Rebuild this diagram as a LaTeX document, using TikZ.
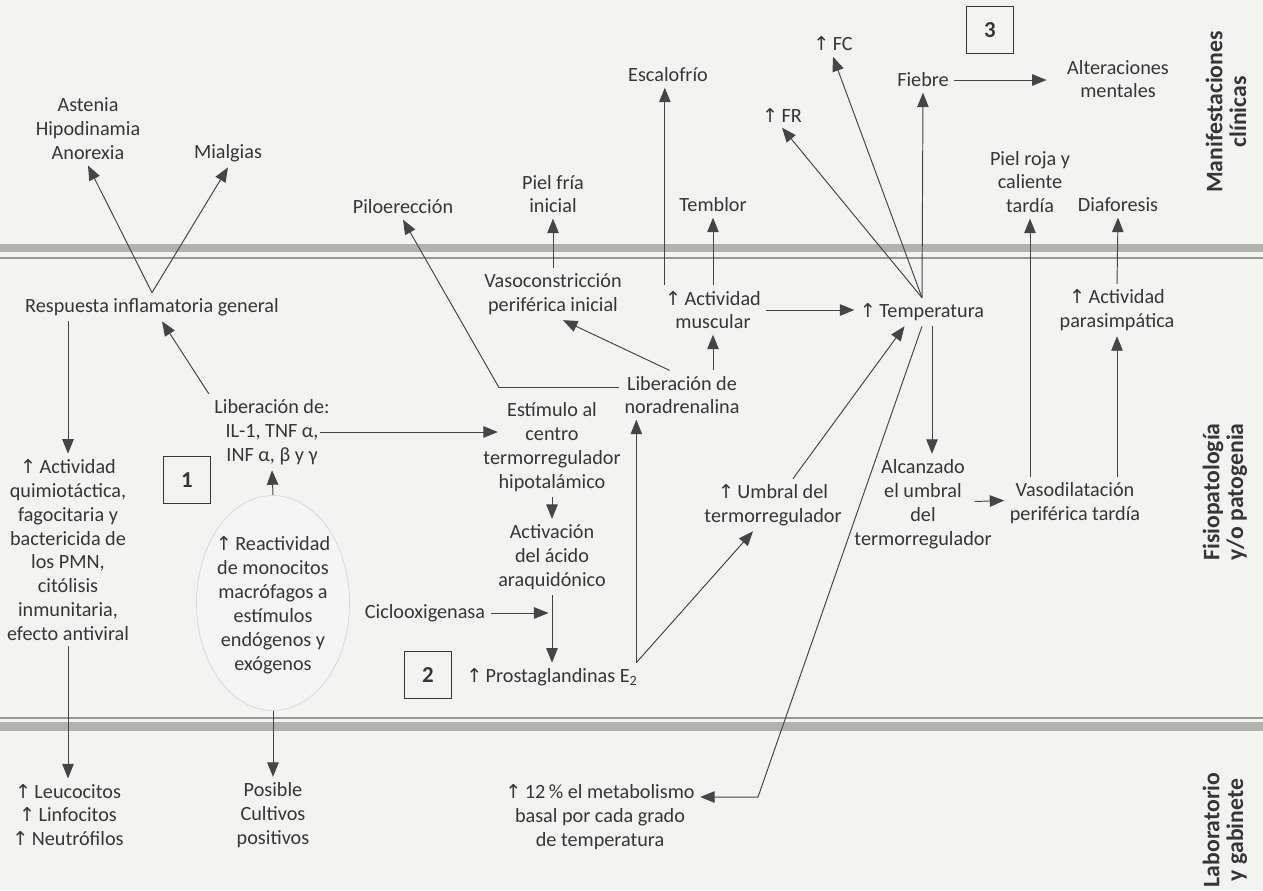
\documentclass[tikz,border=0pt]{standalone}
\usepackage{fontspec}
\setmainfont{Carlito}
\newfontfamily\arrowfont{DejaVu Sans}[Scale=0.95]
\usepackage{tikz}
\usetikzlibrary{arrows.meta,shapes.geometric}
\definecolor{ink}{HTML}{363636}
\definecolor{wire}{HTML}{454545}
\definecolor{paper}{HTML}{F3F3F1}
\definecolor{rule}{HTML}{B2B2B0}
\newcommand{\incr}{{\arrowfont ↑}\,}

\begin{document}
\begin{tikzpicture}[x=0.02cm, y=-0.02cm,
  txt/.style={align=center,inner sep=3pt,text=ink,font=\fontsize{11.5}{13.6}\selectfont},
  arr/.style={draw=wire,line width=0.55pt,-{Triangle[length=2.9mm,width=2.3mm]}},
  numbox/.style={draw=ink,line width=0.7pt,minimum size=0.93cm,inner sep=0pt,text=ink,font=\fontsize{13}{15}\selectfont\bfseries},
  side/.style={rotate=90,align=center,text=ink,font=\fontsize{13.5}{13.5}\selectfont\bfseries},
  blob/.style={ellipse,draw=black!16,fill=black!4,minimum width=3.06cm,minimum height=4.3cm,inner sep=0pt},
]
  \useasboundingbox (0,0) rectangle (1263,890);
  \fill[paper] (0,0) rectangle (1263,890);

  % rules between the three bands
  \fill[rule] (0,244) rectangle (1263,252);
  \draw[rule!85!black,line width=0.6pt] (0,258) -- (1263,258);
  \draw[rule!85!black,line width=0.6pt] (0,718) -- (1263,718);
  \fill[rule] (0,722) rectangle (1263,731);

  % band headings
  \node[side] (hclin) at (1226,112) {Manifestaciones\\clínicas};
  \node[side] (hfisio) at (1225,492) {Fisiopatología\\y/o patogenia};
  \node[side] (hlab) at (1225,830) {Laboratorio\\y gabinete};

  % clinical signs
  \node[txt] (ast) at (88,129) {Astenia\\Hipodinamia\\Anorexia};
  \node[txt] (mial) at (228,153) {Mialgias};
  \node[txt] (pilo) at (403,207) {Piloerección};
  \node[txt] (fria) at (553,194) {Piel fría\\inicial};
  \node[txt] (escal) at (668,75) {Escalofrío};
  \node[txt] (tembl) at (713,205) {Temblor};
  \node[txt] (fr) at (782,115) {\incr FR};
  \node[txt] (fc) at (833,44) {\incr FC};
  \node[txt] (fiebre) at (923,80) {Fiebre};
  \node[txt] (alter) at (1118,79) {Alteraciones\\mentales};
  \node[txt] (roja) at (1030,182) {Piel roja y\\caliente\\tardía};
  \node[txt] (diaf) at (1118,205) {Diaforesis};
  \node[numbox] (n3) at (990,30) {3};

  % pathophysiology
  \node[txt] (resp) at (152,307) {Respuesta inflamatoria general};
  \node[txt] (vaso) at (553,294) {Vasoconstricción\\periférica inicial};
  \node[txt] (musc) at (713,310) {\incr Actividad\\muscular};
  \node[txt] (temp) at (922,312) {\incr Temperatura};
  \node[txt] (paras) at (1117,310) {\incr Actividad\\parasimpática};
  \node[txt] (nora) at (682,395) {Liberación de\\noradrenalina};
  \node[txt] (libil) at (272,432) {Liberación de:\\IL-1, TNF α,\\INF α, β y γ};
  \node[txt] (estim) at (552,447) {Estímulo al\\centro\\termorregulador\\hipotalámico};
  \node[numbox] (n1) at (187,480) {1};
  \node[txt] (umbral) at (773,505) {\incr Umbral del\\termorregulador};
  \node[txt] (alcan) at (923,504) {Alcanzado\\el umbral\\del\\termorregulador};
  \node[txt] (vasod) at (1075,503) {Vasodilatación\\periférica tardía};
  \node[txt] (actq) at (68,550) {\incr Actividad\\quimiotáctica,\\fagocitaria y\\bactericida de\\los PMN,\\citólisis\\inmunitaria,\\efecto antiviral};
  \node[txt] (activ) at (552,557) {Activación\\del ácido\\araquidónico};
  \node[blob] (react) at (273,603) {};
  \node[txt] (reacttxt) at (273,605) {\incr Reactividad\\de monocitos\\macrófagos a\\estímulos\\endógenos y\\exógenos};
  \node[txt] (ciclo) at (425,613) {Ciclooxigenasa};
  \node[numbox] (n2) at (428,675) {2};
  \node[txt] (prost) at (552,677) {\incr Prostaglandinas E\textsubscript{2}};

  % laboratory
  \node[txt] (leuc) at (68,815) {\incr Leucocitos\\\incr Linfocitos\\\incr Neutrófilos};
  \node[txt] (posib) at (273,815) {Posible\\Cultivos\\positivos};
  \node[txt] (metab) at (600,817) {\incr 12\,\% el metabolismo\\basal por cada grado\\de temperatura};
  \coordinate (mbend) at (758,797);

  % connectors
  \draw[arr] (resp.north) -- (ast.south);
  \draw[arr] (resp.north) -- (mial.south);
  \draw[arr] (libil.north west) -- ([xshift=0.2cm]resp.south);
  \draw[arr] (resp.south -| actq.north) -- (actq.north);
  \draw[arr] (actq.south) -- (leuc.north);
  \draw[arr] (react.north) -- (libil.south);
  \draw[arr] (react.south) -- (posib.north);
  \draw[arr] ([xshift=-0.3cm]libil.east) -- ([xshift=0.4cm]libil.east -| estim.west);
  \draw[arr] (estim.south) -- (activ.north);
  \draw[arr] (activ.south) -- (prost.north);
  \draw[arr] (ciclo.east) -- ([xshift=-2pt]ciclo.east -| activ.south);
  \draw[arr] ([xshift=-4pt]prost.north east) -- ([xshift=-4pt]prost.north east |- nora.south);
  \draw[arr] ([xshift=-4pt]prost.north east) -- ([xshift=-0.4cm]umbral.south);
  \draw[arr] ([xshift=0.4cm]umbral.north) -- ([xshift=-0.35cm]temp.south);
  \draw[arr] (temp.south) -- (mbend) -- (mbend -| metab.east);
  \draw[arr] ([xshift=0.2cm]temp.south) -- ([xshift=0.2cm]temp.south |- alcan.north);
  \draw[arr] ([xshift=-0.45cm,yshift=0.05cm]alcan.east) -- ([yshift=0.05cm]vasod.west);
  \draw[arr] (vasod.north -| roja.south) -- (roja.south);
  \draw[arr] (vasod.north -| paras.south) -- (paras.south);
  \draw[arr] (paras.north) -- (diaf.south);
  \draw[arr] (temp.north) -- (fiebre.south);
  \draw[arr] (temp.north) -- (fr.south);
  \draw[arr] (temp.north) -- (fc.south);
  \draw[arr,shorten >=0.3cm] (fiebre.east) -- (fiebre.east -| alter.west);
  \draw[arr] (musc.east) -- (musc.east -| temp.west);
  \draw[arr] (musc.north) -- (tembl.south);
  \draw[arr] ([xshift=3pt]musc.north west) -- ([xshift=3pt]musc.north west |- escal.south);
  \draw[arr] (nora.north -| musc.south) -- (musc.south);
  \draw[arr] ([xshift=-0.25cm]nora.north) -- ([xshift=0.2cm]vaso.south);
  \draw[arr] ([yshift=0.15cm]nora.west) -- ++(-120,0) -- (pilo.south);
  \draw[arr] (vaso.north) -- (fria.south);
\end{tikzpicture}
\end{document}
